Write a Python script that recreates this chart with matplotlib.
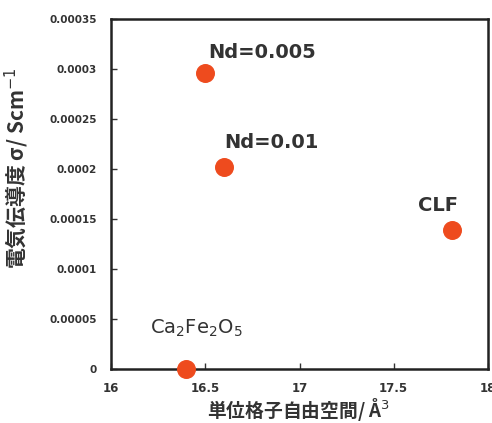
import matplotlib
matplotlib.use("Agg")
import matplotlib.pyplot as plt

plt.rcParams['font.family'] = ['Noto Sans CJK JP', 'DejaVu Sans']

labels = ["Nd=0.005", "Nd=0.01", "CLF", r"Ca$_2$Fe$_2$O$_5$"]
free_space = [16.50, 16.60, 17.81, 16.40]
conductivity = [0.000296, 0.000202, 0.000139, 0.0]
xticks = [16, 16.5, 17, 17.5, 18]
yticks = [0, 0.00005, 0.0001, 0.00015, 0.0002, 0.00025, 0.0003, 0.00035]
ytick_labels = ["0", "0.00005", "0.0001", "0.00015", "0.0002", "0.00025", "0.0003", "0.00035"]
xtick_labels = ["16", "16.5", "17", "17.5", "18"]

fig = plt.figure(figsize=(4.92, 4.23), dpi=100)
ax = fig.add_axes([111/492, 1-369/423, 377/492, 350/423])
ax.scatter(free_space, conductivity, s=160, color="#EE4B1E", zorder=5, clip_on=False)
ax.set_xlim(16, 18)
ax.set_ylim(0, 0.00035)
ax.set_xticks(xticks)
ax.set_xticklabels(xtick_labels)
ax.set_yticks(yticks)
ax.set_yticklabels(ytick_labels)
ax.tick_params(direction='in', length=4, width=1, colors='#333333')
for lab in ax.get_xticklabels():
    lab.set_fontweight('bold'); lab.set_fontsize(8.5); lab.set_color('#333333'); lab.set_family('DejaVu Sans')
for lab in ax.get_yticklabels():
    lab.set_fontweight('bold'); lab.set_fontsize(7.5); lab.set_color('#333333'); lab.set_family('DejaVu Sans')
ax.tick_params(axis='x', pad=9)
ax.tick_params(axis='y', pad=10)
for sp in ax.spines.values():
    sp.set_linewidth(1.8)
    sp.set_color('#222222')

offsets = [(0.30, 0.000021), (0.25, 0.000025), (-0.075, 0.000025), (0.054, 0.000041)]
weights = ['bold', 'bold', 'bold', 'normal']
for lab, x, y, (dx, dy), w in zip(labels, free_space, conductivity, offsets, weights):
    ax.text(x + dx, y + dy, lab, fontsize=14, fontweight=w, ha='center', va='center', color='#333333',
            family=['DejaVu Sans'])

fig.text(17/492, 1-168/423, "電気伝導度 σ/ Scm$^{-1}$", fontsize=15, fontweight='bold', color='#333333',
         rotation=90, ha='center', va='center')
fig.text(298/492, 1-409/423, "単位格子自由空間/ Å$^{3}$", fontsize=13.5, fontweight='bold', color='#333333',
         ha='center', va='center')

fig.savefig("out.png", dpi=100)
